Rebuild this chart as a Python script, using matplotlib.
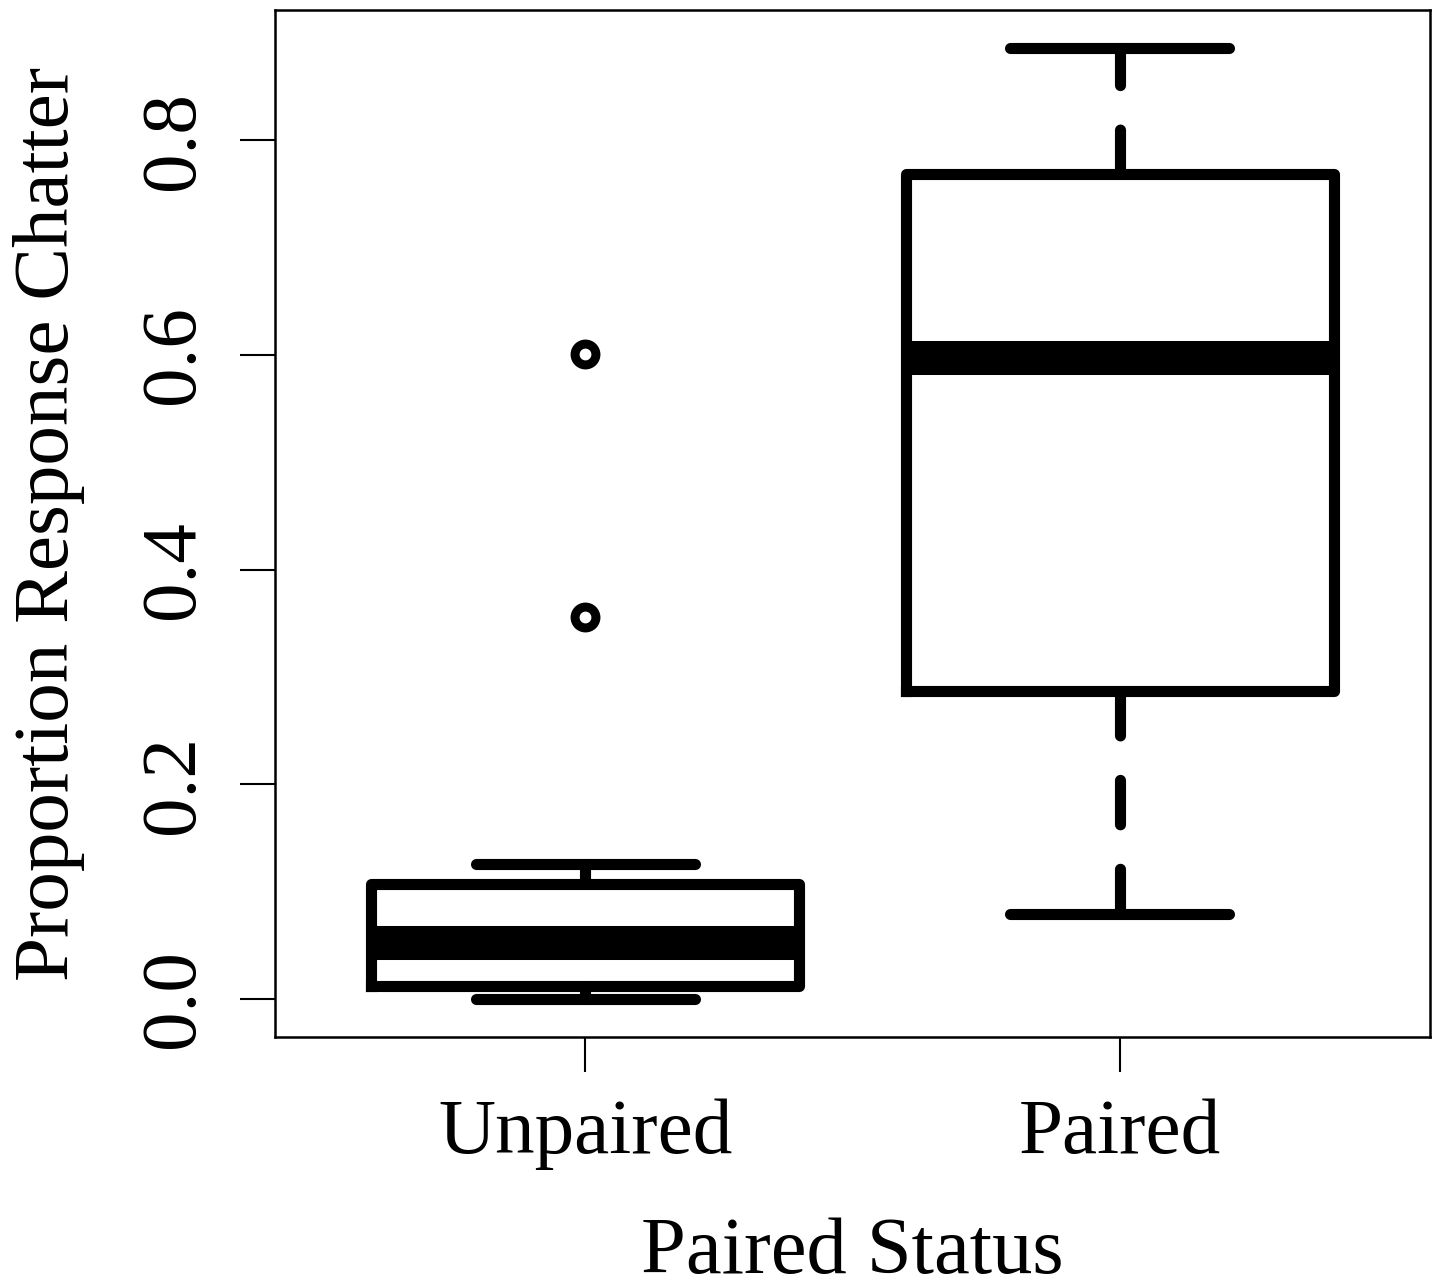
import numpy as np
import matplotlib.pyplot as plt

plt.rcParams['font.family'] = ['Liberation Serif', 'DejaVu Serif']

# values (R-style boxplot)
groups = ['Unpaired', 'Paired']
whisker_low = [0.000, 0.079]
q1 = [0.012, 0.287]
median = [0.052, 0.597]
q3 = [0.107, 0.769]
whisker_high = [0.126, 0.886]
outliers = [[0.601, 0.356], []]

stats = []
for i, g in enumerate(groups):
    stats.append(dict(label=g, whislo=whisker_low[i], q1=q1[i], med=median[i],
                      q3=q3[i], whishi=whisker_high[i], fliers=outliers[i]))

fig = plt.figure(figsize=(14.35, 12.87), dpi=100)
ax = fig.add_axes([275 / 1435, 1 - 1037 / 1287, 1155 / 1435, 1027 / 1287])

lw = 8
ax.bxp(stats, positions=[1, 2], widths=0.8, capwidths=0.41,
       boxprops=dict(color='black', linewidth=lw, solid_joinstyle='round'),
       medianprops=dict(color='black', linewidth=24.5, solid_capstyle='butt'),
       whiskerprops=dict(color='black', linewidth=lw, linestyle=(0, (4, 4)),
                         dash_capstyle='round'),
       capprops=dict(color='black', linewidth=lw, solid_capstyle='round'),
       flierprops=dict(marker='o', markerfacecolor='none', markeredgecolor='black',
                       markersize=15, markeredgewidth=6.5))

ax.set_xlim(0.42, 2.58)
ax.set_ylim(-0.0354, 0.9214)
ax.set_yticks([0.0, 0.2, 0.4, 0.6, 0.8])
ax.set_yticklabels(['0.0', '0.2', '0.4', '0.6', '0.8'], rotation=90, va='center')
ax.set_xticks([1, 2])
ax.set_xticklabels(groups)

for s in ax.spines.values():
    s.set_linewidth(1.8)
ax.tick_params(axis='both', length=25, width=1.5, labelsize=57)
ax.tick_params(axis='y', pad=22)
ax.tick_params(axis='x', pad=19)

ax.set_xlabel('Paired Status', fontsize=58, labelpad=34)
ax.set_ylabel('Proportion Response Chatter', fontsize=57, labelpad=38)

fig.savefig('out.png', dpi=100)
